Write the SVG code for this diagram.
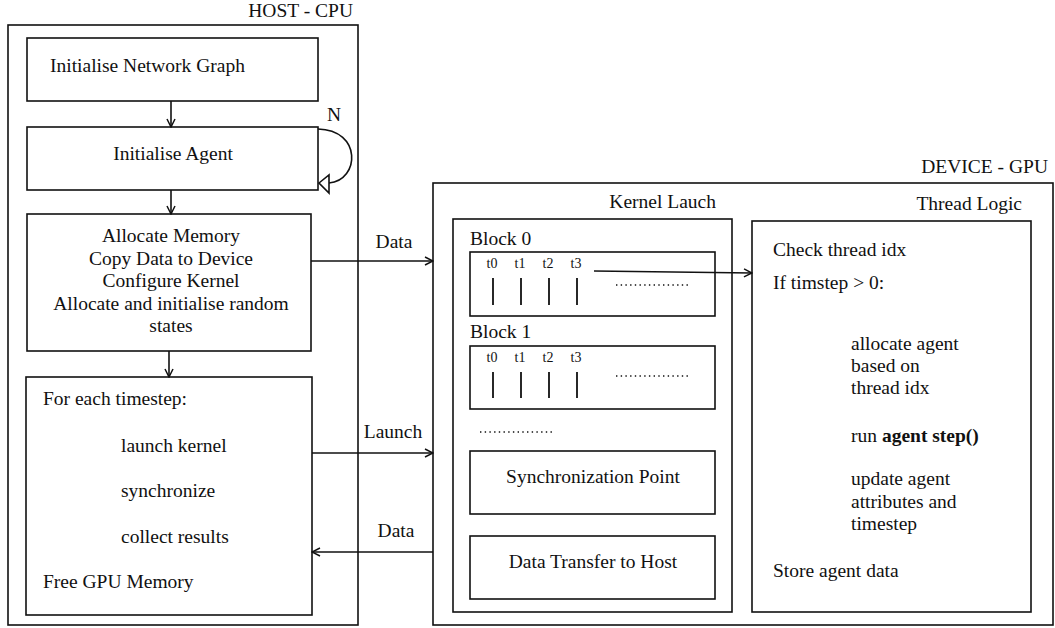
<svg xmlns="http://www.w3.org/2000/svg" width="1055" height="628" viewBox="0 0 1055 628">
  <defs>
    <style>
      text { font-family: "Liberation Serif", "Times New Roman", serif; font-size: 19.5px; fill: #111; }
      .box { fill: #fff; stroke: #111; stroke-width: 1.6; }
      .frame { fill: none; stroke: #111; stroke-width: 1.6; }
      .edge { fill: none; stroke: #111; stroke-width: 1.6; }
      .mid { text-anchor: middle; }
      .end { text-anchor: end; }
      .small { font-size: 14px; }
      .tick { stroke: #111; stroke-width: 1.8; }
      .dots { stroke: #111; stroke-width: 1.4; stroke-dasharray: 1.4 3.3; }
    </style>
    <marker id="arrow" viewBox="0 0 10 10" refX="9" refY="5" markerWidth="10" markerHeight="10" markerUnits="userSpaceOnUse" orient="auto">
      <path d="M1,1 L9,5 L1,9" fill="none" stroke="#111" stroke-width="1.5"/>
    </marker>
  </defs>
  <rect width="1055" height="628" fill="#fff"/>

  <!-- Host side -->
  <g id="host">
    <rect class="frame" x="8" y="25" width="350" height="600"/>
    <text class="end" x="353" y="17">HOST - CPU</text>
  </g>

  <g id="init-graph">
    <rect class="box" x="27" y="38" width="291" height="63"/>
    <text x="50" y="72">Initialise Network Graph</text>
  </g>

  <g id="init-agent">
    <rect class="box" x="27" y="127" width="291" height="63"/>
    <text class="mid" x="173" y="160">Initialise Agent</text>
  </g>

  <g id="allocate">
    <rect class="box" x="27" y="214" width="284" height="137"/>
    <text class="mid" x="171" y="242">Allocate Memory</text>
    <text class="mid" x="171" y="265">Copy Data to Device</text>
    <text class="mid" x="171" y="287">Configure Kernel</text>
    <text class="mid" x="171" y="310">Allocate and initialise random</text>
    <text class="mid" x="171" y="332">states</text>
  </g>

  <g id="timestep-loop">
    <rect class="box" x="26" y="377" width="286" height="238"/>
    <text x="43" y="405">For each timestep:</text>
    <text x="121" y="452">launch kernel</text>
    <text x="121" y="497">synchronize</text>
    <text x="121" y="543">collect results</text>
    <text x="43" y="588">Free GPU Memory</text>
  </g>

  <!-- Device side -->
  <g id="device">
    <rect class="frame" x="433" y="183" width="620" height="442"/>
    <text class="end" x="1048" y="173">DEVICE - GPU</text>
  </g>

  <g id="kernel-launch">
    <rect class="frame" x="453" y="219" width="279" height="393"/>
    <text class="end" x="716" y="208">Kernel Lauch</text>
  </g>

  <g id="block-0">
    <text x="470" y="245">Block 0</text>
    <rect class="box" x="470" y="252" width="245" height="64"/>
    <text class="small mid" x="492" y="268">t0</text>
    <text class="small mid" x="520" y="268">t1</text>
    <text class="small mid" x="548" y="268">t2</text>
    <text class="small mid" x="576" y="268">t3</text>
    <line class="tick" x1="493" y1="278" x2="493" y2="305"/>
    <line class="tick" x1="521" y1="278" x2="521" y2="305"/>
    <line class="tick" x1="549" y1="278" x2="549" y2="305"/>
    <line class="tick" x1="577" y1="278" x2="577" y2="305"/>
    <line class="dots" x1="616" y1="285" x2="688" y2="285"/>
  </g>

  <g id="block-1">
    <text x="470" y="338">Block 1</text>
    <rect class="box" x="470" y="346" width="245" height="63"/>
    <text class="small mid" x="492" y="362">t0</text>
    <text class="small mid" x="520" y="362">t1</text>
    <text class="small mid" x="548" y="362">t2</text>
    <text class="small mid" x="576" y="362">t3</text>
    <line class="tick" x1="493" y1="372" x2="493" y2="398"/>
    <line class="tick" x1="521" y1="372" x2="521" y2="398"/>
    <line class="tick" x1="549" y1="372" x2="549" y2="398"/>
    <line class="tick" x1="577" y1="372" x2="577" y2="398"/>
    <line class="dots" x1="616" y1="376" x2="688" y2="376"/>
  </g>

  <g id="more-blocks">
    <line class="dots" x1="480" y1="432" x2="552" y2="432"/>
  </g>

  <g id="sync-point">
    <rect class="box" x="470" y="451" width="245" height="63"/>
    <text class="mid" x="593" y="483">Synchronization Point</text>
  </g>

  <g id="transfer">
    <rect class="box" x="470" y="536" width="245" height="63"/>
    <text class="mid" x="593" y="568">Data Transfer to Host</text>
  </g>

  <g id="thread-logic">
    <rect class="box" x="752" y="221" width="279" height="391"/>
    <text class="end" x="1022" y="210">Thread Logic</text>
    <text x="773" y="256">Check thread idx</text>
    <text x="773" y="289">If timstep &gt; 0:</text>
    <text x="851" y="350">allocate agent</text>
    <text x="851" y="372">based on</text>
    <text x="851" y="394">thread idx</text>
    <text x="851" y="442">run <tspan font-weight="bold">agent step()</tspan></text>
    <text x="851" y="485">update agent</text>
    <text x="851" y="508">attributes and</text>
    <text x="851" y="530">timestep</text>
    <text x="773" y="577">Store agent data</text>
  </g>

  <!-- Connectors -->
  <g id="connectors">
    <line class="edge" x1="171" y1="101" x2="171" y2="127" marker-end="url(#arrow)"/>
    <line class="edge" x1="171" y1="190" x2="171" y2="214" marker-end="url(#arrow)"/>
    <line class="edge" x1="169" y1="351" x2="169" y2="377" marker-end="url(#arrow)"/>

    <!-- repeat N times -->
    <path class="edge" d="M318,129 C362,130 360,180 329,183"/>
    <polygon points="319,183 329,175 329,193" fill="#fff" stroke="#111" stroke-width="1.6"/>
    <text x="327" y="121">N</text>

    <line class="edge" x1="311" y1="261" x2="433" y2="261" marker-end="url(#arrow)"/>
    <text class="mid" x="394" y="248">Data</text>

    <line class="edge" x1="312" y1="453" x2="433" y2="453" marker-end="url(#arrow)"/>
    <text class="mid" x="393" y="438">Launch</text>

    <line class="edge" x1="433" y1="552" x2="312" y2="552" marker-end="url(#arrow)"/>
    <text class="mid" x="396" y="537">Data</text>

    <line class="edge" x1="594" y1="271" x2="752" y2="273" marker-end="url(#arrow)"/>
  </g>
</svg>
